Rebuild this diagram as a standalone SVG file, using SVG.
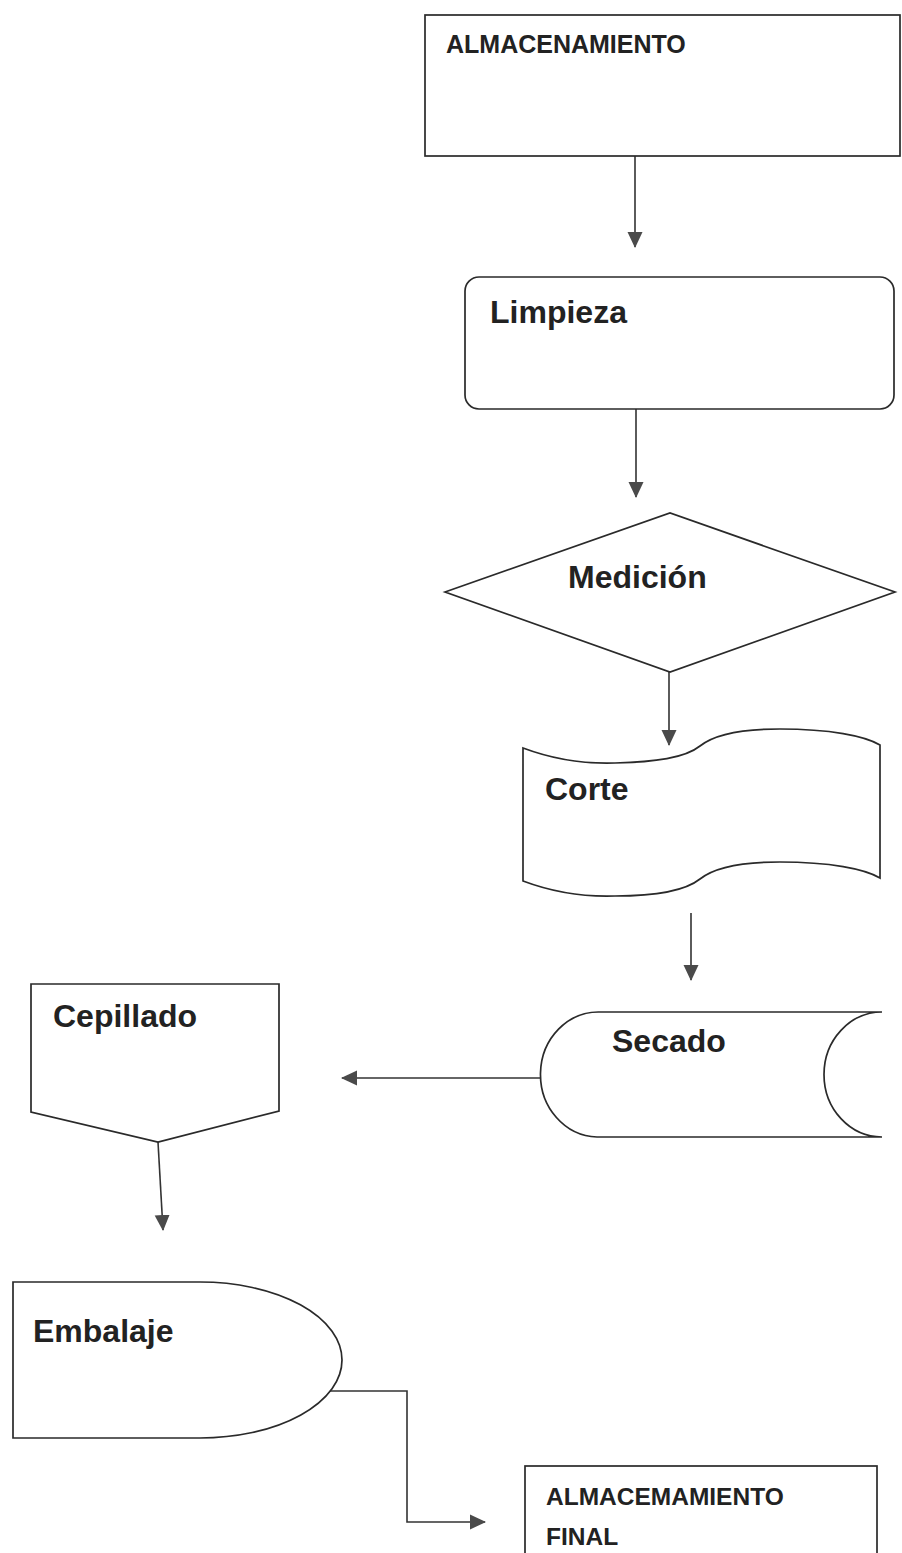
<svg xmlns="http://www.w3.org/2000/svg" width="902" height="1553" viewBox="0 0 902 1553">
<style>
.s{fill:#fff;stroke:#2a2a2a;stroke-width:1.7}
.t{font-family:"Liberation Sans",Arial,sans-serif;font-weight:bold;font-size:32px;fill:#222}
.c{font-family:"Liberation Sans",Arial,sans-serif;font-weight:bold;font-size:25px;fill:#222}
.e{fill:none;stroke:#333;stroke-width:1.6}
</style>
<defs>
<marker id="ah" markerUnits="userSpaceOnUse" markerWidth="16" markerHeight="16" refX="15" refY="8" orient="auto">
<path d="M0,0.5 L16,8 L0,15.5 Z" fill="#4a4a4a"/>
</marker>
</defs>
<rect width="902" height="1553" fill="#fff"/>
<g id="connectors">
<path class="e" d="M635,156 L635,247" marker-end="url(#ah)"/>
<path class="e" d="M636,409 L636,497" marker-end="url(#ah)"/>
<path class="e" d="M669,672 L669,745" marker-end="url(#ah)"/>
<path class="e" d="M691,913 L691,980" marker-end="url(#ah)"/>
<path class="e" d="M541,1078 L342,1078" marker-end="url(#ah)"/>
<path class="e" d="M158,1142 L163,1230" marker-end="url(#ah)"/>
<path class="e" d="M330,1391 L407,1391 L407,1522 L485,1522" marker-end="url(#ah)"/>
</g>
<g id="almacenamiento">
<rect class="s" x="425" y="15" width="475" height="141"/>
<text class="c" x="446" y="53">ALMACENAMIENTO</text>
</g>
<g id="limpieza">
<rect class="s" x="465" y="277" width="429" height="132" rx="14"/>
<text class="t" x="490" y="323">Limpieza</text>
</g>
<g id="medicion">
<polygon class="s" points="445,592 670,513 895,592 670,672"/>
<text class="t" x="568" y="588">Medición</text>
</g>
<g id="corte">
<path class="s" d="M523,748 C555,760 585,764 615,763 C655,762 685,758 700,746 C715,734 745,729 780,729 C830,729 865,736 880,745 L880,878 C865,869 830,862 780,862 C745,862 715,867 700,879 C685,891 655,896 615,896 C585,897 555,893 523,881 Z"/>
<text class="t" x="545" y="800">Corte</text>
</g>
<g id="secado">
<path class="s" d="M600,1012 L882,1012 A58,62.5 0 0 0 882,1137 L597,1137 A58,62.5 0 0 1 600,1012 Z"/>
<text class="t" x="612" y="1052">Secado</text>
</g>
<g id="cepillado">
<polygon class="s" points="31,984 279,984 279,1111 158,1142 31,1112"/>
<text class="t" x="53" y="1027">Cepillado</text>
</g>
<g id="embalaje">
<path class="s" d="M13,1282 L200,1282 A142,78 0 0 1 200,1438 L13,1438 Z"/>
<text class="t" x="33" y="1342">Embalaje</text>
</g>
<g id="almacenamiento-final">
<rect class="s" x="525" y="1466" width="352" height="100"/>
<text class="c" x="546" y="1505" style="font-size:24.5px">ALMACEMAMIENTO</text>
<text class="c" x="546" y="1545" style="font-size:24.5px">FINAL</text>
</g>
</svg>
